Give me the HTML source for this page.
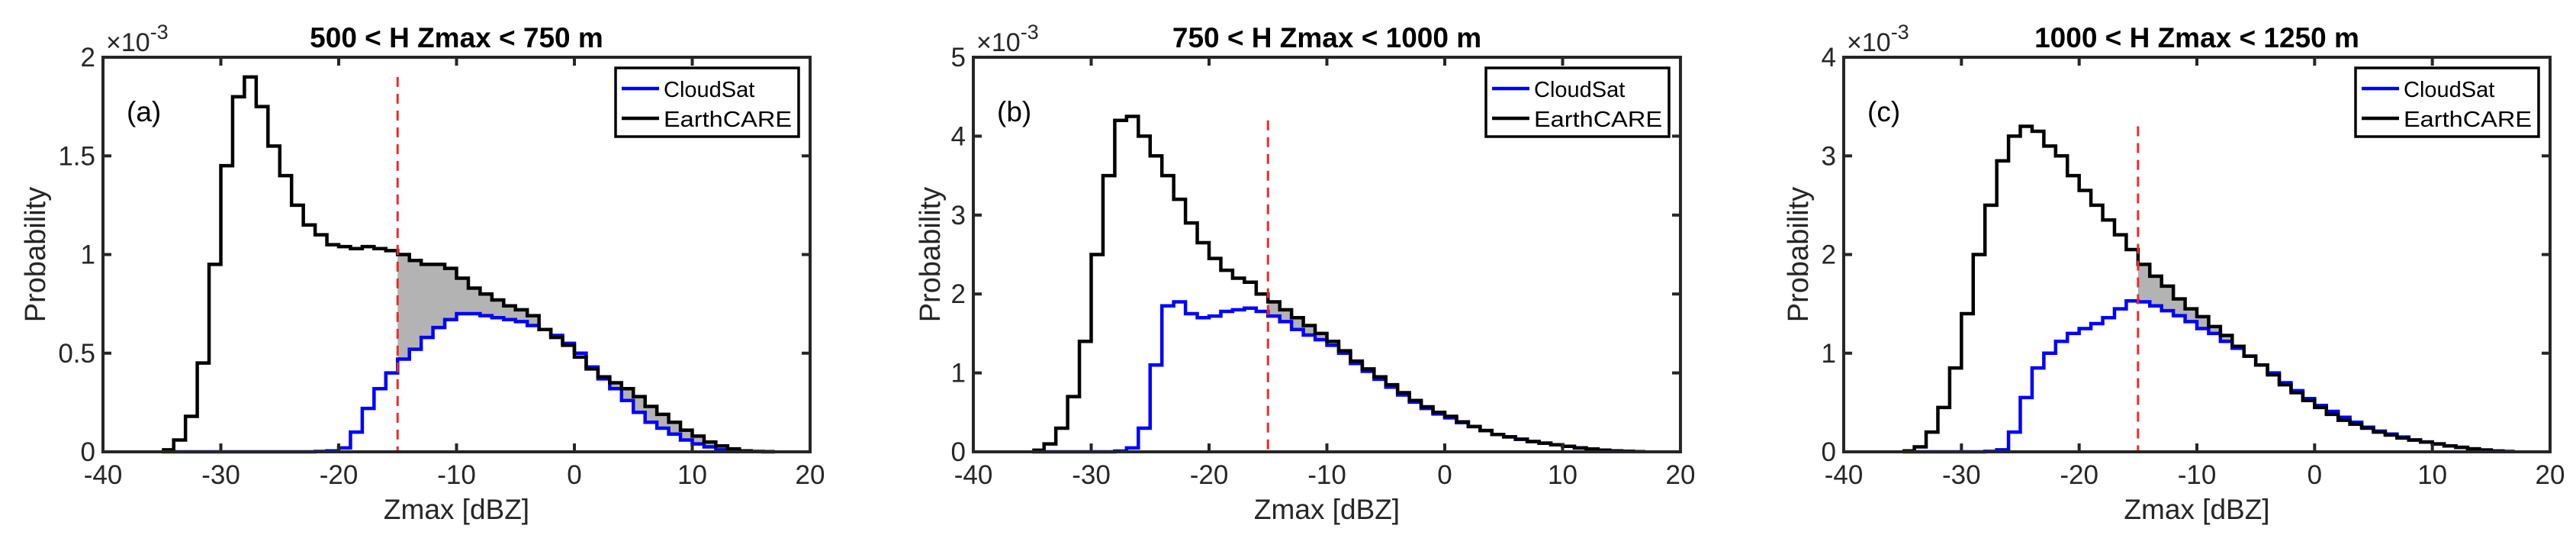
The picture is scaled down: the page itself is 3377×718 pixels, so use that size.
<!DOCTYPE html>
<html><head><meta charset="utf-8">
<style>
html,body{margin:0;padding:0;background:#fff;}
svg{display:block;font-family:"Liberation Sans",Arial,sans-serif;}
</style></head>
<body>
<svg id="fig" width="3377" height="718" viewBox="0 0 3377 718" xmlns="http://www.w3.org/2000/svg"></svg>
<script>
const binStarts = [-35,-34,-33,-32,-31,-30,-29,-28,-27,-26,-25,-24,-23,-22,-21,-20,-19,-18,-17,-16,-15,-14,-13,-12,-11,-10,-9,-8,-7,-6,-5,-4,-3,-2,-1,0,1,2,3,4,5,6,7,8,9,10,11,12,13,14,15,16];
const xTicks = [-40,-30,-20,-10,0,10,20];
const titles = ["500 < H Zmax < 750 m","750 < H Zmax < 1000 m","1000 < H Zmax < 1250 m"];
const panelLetters = ["(a)","(b)","(c)"];
const yMaxes = [2,5,4];
const yTicksA = ["0","0.5","1","1.5","2"];
const yTicksB = ["0","1","2","3","4","5"];
const yTicksC = ["0","1","2","3","4"];
const ecA = [.01,.06,.18,.45,.95,1.45,1.8,1.9,1.75,1.55,1.4,1.25,1.15,1.1,1.05,1.04,1.03,1.04,1.03,1.02,1.0,.97,.95,.95,.93,.88,.83,.8,.77,.74,.72,.69,.62,.58,.54,.48,.42,.38,.35,.32,.28,.23,.19,.15,.11,.08,.05,.03,.015,.005,.002,.001];
const csA = [0,0,0,0,0,0,0,0,0,0,0,0,0,.002,.005,.02,.1,.22,.32,.4,.47,.52,.58,.63,.67,.7,.7,.69,.68,.67,.66,.64,.62,.59,.55,.5,.43,.37,.32,.26,.2,.15,.12,.09,.06,.04,.025,.01,.005,.002,.001,0];
const ecB = [.02,.1,.3,.7,1.4,2.5,3.5,4.2,4.25,4.0,3.75,3.5,3.2,2.9,2.65,2.45,2.3,2.2,2.15,2.0,1.9,1.8,1.7,1.6,1.5,1.4,1.28,1.15,1.05,.95,.85,.75,.65,.57,.5,.45,.38,.32,.27,.22,.19,.16,.13,.11,.09,.07,.05,.035,.02,.012,.006,.002];
const csB = [0,0,0,0,0,0,0,.01,.05,.3,1.1,1.85,1.9,1.75,1.7,1.72,1.78,1.8,1.82,1.78,1.72,1.65,1.55,1.48,1.42,1.35,1.25,1.12,1.02,.92,.82,.72,.63,.55,.48,.43,.37,.32,.27,.22,.19,.16,.13,.11,.09,.07,.05,.035,.02,.012,.006,.002];
const ecC = [.01,.05,.2,.45,.85,1.4,2.0,2.5,2.95,3.2,3.3,3.25,3.1,3.0,2.8,2.65,2.5,2.35,2.2,2.05,1.9,1.78,1.68,1.55,1.45,1.37,1.27,1.18,1.07,.97,.88,.78,.68,.6,.52,.45,.38,.32,.28,.24,.2,.17,.14,.12,.1,.08,.06,.045,.03,.018,.008,.003];
const csC = [0,0,0,0,0,0,0,.005,.02,.2,.55,.85,1.0,1.12,1.2,1.25,1.3,1.36,1.45,1.53,1.52,1.48,1.43,1.38,1.32,1.25,1.2,1.12,1.05,.97,.88,.8,.7,.62,.54,.47,.41,.35,.3,.25,.21,.18,.15,.12,.1,.08,.06,.045,.03,.018,.008,.003];
const dashX = -15;
const dashTops = [1.9,4.2,3.3];
const binW = 1;

const NS="http://www.w3.org/2000/svg";
const fig=document.getElementById('fig');
function mk(tag,attrs,parent){const e=document.createElementNS(NS,tag);for(const k in attrs)e.setAttribute(k,attrs[k]);(parent||fig).appendChild(e);return e;}

const panels=[
 {L:135,R:1062,ec:ecA,cs:csA,yt:yTicksA,ylx:59},
 {L:1276,R:2203,ec:ecB,cs:csB,yt:yTicksB,ylx:1232},
 {L:2417,R:3343,ec:ecC,cs:csC,yt:yTicksC,ylx:2370}];
const T=75,B=592;
const C='#262626';

panels.forEach((p,i)=>{
  const g=mk('g',{});
  
  
  const ymax=yMaxes[i];
  const sx=v=>p.L+(v+40)/60*(p.R-p.L);
  const sy=v=>B-v/ymax*(B-T);
  let top=[],bot=[];
  binStarts.forEach((b,j)=>{
    if(b<dashX) return;
    const e=p.ec[j],c=p.cs[j];
    const hi=Math.max(e,c);
    top.push([sx(b),sy(hi)],[sx(b+binW),sy(hi)]);
    bot.push([sx(b),sy(c)],[sx(b+binW),sy(c)]);
  });
  const pts=top.concat(bot.reverse()).map(q=>q.join(',')).join(' ');
  const shade=mk('polygon',{points:pts,fill:'#b3b3b3',stroke:'none'},g);
  
  
  function stair(vals){
    let d='';
    binStarts.forEach((b,j)=>{
      d+=(j===0?'M':'L')+sx(b)+','+sy(vals[j])+' L'+sx(b+binW)+','+sy(vals[j])+' ';
    });
    return d;
  }
  const cs=mk('path',{d:stair(p.cs),fill:'none',stroke:'#0000ff','stroke-width':4.5},g);
  
  
  const ec=mk('path',{d:stair(p.ec),fill:'none',stroke:'#000','stroke-width':4.5},g);
  
  
  const dl=mk('line',{x1:sx(dashX),x2:sx(dashX),y1:sy(dashTops[i]),y2:B,stroke:'#ee2a2a','stroke-width':3,'stroke-dasharray':'13,9'},g);
  
  
  const box=mk('rect',{x:p.L,y:T,width:p.R-p.L,height:B-T,fill:'none',stroke:C,'stroke-width':4},g);
  
  
  xTicks.forEach(v=>{
    const x=sx(v);
    mk('line',{x1:x,x2:x,y1:B,y2:B-11,stroke:C,'stroke-width':4},g);
    mk('line',{x1:x,x2:x,y1:T,y2:T+11,stroke:C,'stroke-width':4},g);
    const t=mk('text',{x:x,y:B+42,'font-size':35,'text-anchor':'middle',fill:C},g);
    t.textContent=v;
    
    
  });
  p.yt.forEach(s=>{
    const y=sy(parseFloat(s));
    mk('line',{x1:p.L,x2:p.L+11,y1:y,y2:y,stroke:C,'stroke-width':4},g);
    mk('line',{x1:p.R,x2:p.R-11,y1:y,y2:y,stroke:C,'stroke-width':4},g);
    const t=mk('text',{x:p.L-10,y:y+12,'font-size':35,'text-anchor':'end',fill:C},g);
    t.textContent=s;
    
    
  });
  const ex=mk('text',{x:p.L+4,y:T-8,'font-size':34,fill:C},g);
  ex.innerHTML='×10<tspan dy="-16" font-size="27">-3</tspan>';
  
  
  const ti=mk('text',{x:(p.L+p.R)/2,y:T-13,'font-size':37,'font-weight':'bold','text-anchor':'middle',fill:'#000'},g);
  ti.textContent=titles[i];
  
  
  const xl=mk('text',{x:(p.L+p.R)/2,y:680,'font-size':37,'text-anchor':'middle',fill:C},g);
  xl.textContent='Zmax [dBZ]';
  
  
  const yl=mk('text',{x:0,y:0,'font-size':38,'text-anchor':'middle',fill:C,transform:`translate(${p.ylx},${(T+B)/2}) rotate(-90)`},g);
  yl.textContent='Probability';
  
  
  const pl=mk('text',{x:p.L+31,y:T+84,'font-size':37,fill:'#000'},g);
  pl.textContent=panelLetters[i];
  
  
  const lg=mk('g',{},g);
  
  
  const lx=p.R-255,ly=T+14;
  mk('rect',{x:lx,y:ly,width:240,height:90,fill:'#fff',stroke:'#000','stroke-width':3.5},lg);
  mk('line',{x1:lx+8,x2:lx+57,y1:ly+27,y2:ly+27,stroke:'#0000ff','stroke-width':4.5},lg);
  mk('line',{x1:lx+8,x2:lx+57,y1:ly+66,y2:ly+66,stroke:'#000','stroke-width':4.5},lg);
  const t1=mk('text',{x:lx+63,y:ly+38,'font-size':29,fill:'#000'},lg);
  t1.textContent='CloudSat';
  
  
  const t2=mk('text',{x:lx+63,y:ly+77,'font-size':29,fill:'#000','textLength':168,'lengthAdjust':'spacingAndGlyphs'},lg);
  t2.textContent='EarthCARE';
  
  
});
</script>
</body></html>
